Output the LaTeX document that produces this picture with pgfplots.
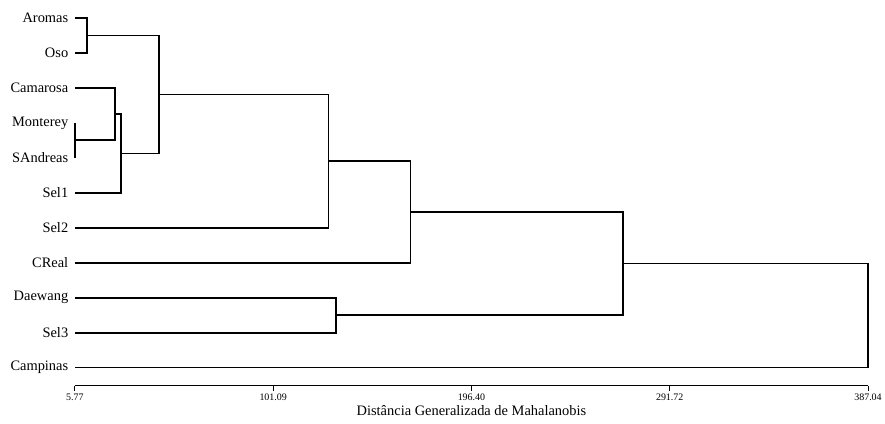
\documentclass[border=0pt]{standalone}
\usepackage{fontspec}
\setmainfont{Liberation Serif}
\usepackage{pgfplots}
\pgfplotsset{compat=1.18}
\pgfplotsset{dend/.style={black, solid, line width=1.8bp, mark=none}}
\begin{document}
\begin{tikzpicture}
\begin{axis}[
 scale only axis, width=794bp, height=386bp,
 xmin=5.77, xmax=387.04, ymin=-0.514, ymax=10.514, y dir=reverse,
 axis x line*=bottom, axis y line*=left,
 y axis line style={draw=none},
 x axis line style={line width=1bp},
 xtick={5.77,101.09,196.40,291.72,387.04},
 xticklabels={5.77,101.09,196.40,291.72,387.04},
 minor x tick num=4,
 tick align=outside,
 major tick length=5bp, minor tick length=3.5bp,
 ytick={0,...,10},
 yticklabels={Aromas,Oso,Camarosa,Monterey,SAndreas,Sel1,Sel2,CReal,Daewang,Sel3,Campinas},
 ytick style={draw=none},
 yticklabel style={font=\fontsize{14.5}{16}\selectfont, inner xsep=1.5bp},
 xticklabel style={font=\fontsize{10}{11}\selectfont},
 xlabel={Distância Generalizada de Mahalanobis},
 xlabel style={font=\fontsize{14.5}{16}\selectfont, yshift=2bp},
 clip=false,
 x tick style={black, line width=1bp},
]
\addplot[dend] coordinates {(5.77,0)(11.53,0)(11.53,1)(5.77,1)};
\addplot[dend] coordinates {(5.77,3)(5.77,4)};
\addplot[dend] coordinates {(5.77,2)(24.98,2)(24.98,3.5)(5.77,3.5)};
\addplot[dend] coordinates {(24.98,2.75)(27.86,2.75)(27.86,5)(5.77,5)};
\addplot[dend] coordinates {(11.53,0.5)(46.1,0.5)(46.1,3.875)(27.86,3.875)};
\addplot[dend] coordinates {(46.1,2.1875)(127.7,2.1875)(127.7,6)(5.77,6)};
\addplot[dend] coordinates {(127.7,4.094)(167.1,4.094)(167.1,7)(5.77,7)};
\addplot[dend] coordinates {(5.77,8)(131.1,8)(131.1,9)(5.77,9)};
\addplot[dend] coordinates {(167.1,5.547)(269.4,5.547)(269.4,8.5)(131.1,8.5)};
\addplot[dend] coordinates {(269.4,7.023)(387.04,7.023)(387.04,10)(5.77,10)};
\end{axis}
\path ([xshift=-75bp,yshift=-38bp]current axis.south west) rectangle ([xshift=16bp]current axis.north east);
\end{tikzpicture}
\end{document}
